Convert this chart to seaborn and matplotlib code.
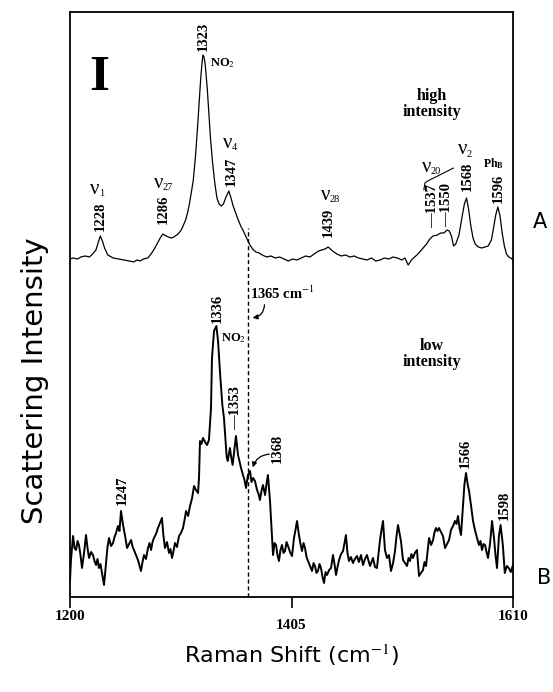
import numpy as np
import pandas as pd
import matplotlib
matplotlib.use("Agg")
import matplotlib.pyplot as plt
import seaborn as sns

# ---------------- data ----------------
# Spectrum A (high intensity): Raman shift (cm-1) and intensity (a.u.)
shift_a = [1200, 1203, 1207, 1210, 1214, 1218, 1221, 1224, 1226, 1228, 1230, 1232,
           1235, 1240, 1245, 1250, 1255, 1259, 1262, 1265, 1268, 1272, 1275, 1278,
           1281, 1284, 1286, 1289, 1291, 1294, 1296, 1300, 1303, 1305, 1307, 1309,
           1311, 1314, 1316, 1318, 1319.5, 1321, 1322, 1323, 1324, 1325, 1327, 1330,
           1332, 1334, 1336, 1338, 1340, 1342, 1344, 1347, 1349, 1351, 1355, 1358,
           1360, 1363, 1366, 1369, 1372, 1375, 1378, 1382, 1386, 1390, 1394, 1398,
           1402, 1406, 1410, 1414, 1418, 1422, 1426, 1430, 1433, 1436, 1439, 1441,
           1443, 1447, 1451, 1455, 1459, 1463, 1467, 1471, 1475, 1479, 1483, 1487,
           1491, 1495, 1499, 1503, 1507, 1510, 1513, 1516, 1519, 1522, 1526, 1530,
           1533, 1536, 1540, 1543, 1546, 1549, 1551, 1553, 1555, 1557, 1560, 1563,
           1565, 1567, 1569, 1571, 1573, 1575, 1578, 1581, 1584, 1587, 1590, 1592,
           1594, 1596, 1598, 1600, 1602, 1604, 1606, 1608, 1610]
int_a = [9, 10, 9, 11, 12, 11, 14, 18, 25, 32, 27, 20,
         13, 10, 9, 8, 7, 6, 8, 7, 9, 10, 14, 19,
         25, 31, 34, 32, 31, 30, 31, 34, 38, 43, 48, 56,
         67, 87, 110, 140, 165, 190, 203, 213, 211, 205, 180, 130,
         105, 85, 70, 64, 62, 64, 70, 77, 70, 62, 50, 42,
         38, 31, 24, 19, 16, 15, 13, 11, 12, 10, 11, 9,
         7, 9, 8, 10, 12, 11, 14, 17, 18, 19, 21, 19,
         17, 14, 12, 13, 11, 12, 10, 9, 8, 10, 7, 8,
         10, 9, 11, 10, 8, 10, 3, 8, 11, 14, 19, 24,
         29, 32, 33, 35, 35, 38, 37, 32, 22, 24, 33, 52,
         64, 70, 58, 42, 30, 24, 21, 20, 21, 22, 28, 40,
         53, 61, 52, 35, 22, 14, 11, 10, 8]

# Spectrum B (low intensity): Raman shift (cm-1) and intensity (a.u.)
shift_b = [1200.0, 1200.9, 1202.8, 1204.2, 1205.6, 1207.0, 1208.3, 1209.7, 1211.1,
           1213.0, 1214.8, 1216.2, 1217.6, 1219.5, 1221.3, 1222.7, 1224.1, 1225.5,
           1226.8, 1228.2, 1229.6, 1231.5, 1233.3, 1234.7, 1236.1, 1238.0, 1239.8,
           1241.2, 1242.6, 1244.4, 1245.8, 1247.2, 1249.1, 1251.0, 1252.8, 1254.6,
           1256.5, 1258.0, 1259.2, 1261.0, 1262.9, 1265.7, 1267.1, 1268.5, 1270.3,
           1272.2, 1273.6, 1275.0, 1276.4, 1277.7, 1279.6, 1281.4, 1283.3, 1285.1,
           1286.5, 1287.9, 1289.8, 1291.6, 1293.0, 1294.4, 1295.8, 1297.2, 1299.0,
           1300.9, 1302.7, 1304.6, 1306.0, 1307.4, 1309.3, 1311.1, 1313.0, 1314.8,
           1316.6, 1318.5, 1319.4, 1320.3, 1321.7, 1323.1, 1325.0, 1326.8, 1328.6,
           1330.5, 1331.4, 1333.3, 1335.5, 1337.0, 1339.0, 1341.0, 1342.5, 1344.0,
           1345.0, 1346.0, 1348.0, 1349.2, 1350.5, 1352.0, 1353.6, 1355.5, 1357.0,
           1358.3, 1360.1, 1361.5, 1362.9, 1364.7, 1366.6, 1368.0, 1369.4, 1371.2,
           1373.1, 1374.5, 1375.8, 1377.2, 1378.6, 1380.5, 1382.0, 1383.2, 1385.1,
           1386.9, 1387.9, 1389.3, 1390.7, 1392.0, 1393.4, 1394.8, 1396.2, 1397.6,
           1399.0, 1400.4, 1401.8, 1403.6, 1405.5, 1407.3, 1408.7, 1410.1, 1411.9,
           1413.3, 1414.7, 1416.1, 1417.5, 1418.9, 1420.3, 1422.2, 1424.0, 1425.4,
           1426.7, 1428.1, 1429.5, 1430.9, 1432.3, 1433.7, 1435.1, 1436.5, 1437.9,
           1439.8, 1441.6, 1443.4, 1444.8, 1446.2, 1447.6, 1449.0, 1450.9, 1452.7,
           1454.1, 1455.4, 1456.8, 1458.2, 1460.0, 1461.9, 1463.7, 1465.6, 1467.4,
           1469.3, 1471.2, 1473.0, 1474.9, 1476.3, 1477.7, 1479.0, 1480.4, 1482.3,
           1484.1, 1485.5, 1486.9, 1488.3, 1489.7, 1491.5, 1493.4, 1495.2, 1497.1,
           1499.0, 1500.8, 1502.2, 1503.6, 1505.0, 1506.3, 1508.2, 1510.0, 1511.9,
           1513.3, 1514.7, 1516.0, 1517.4, 1519.2, 1521.1, 1523.0, 1524.8, 1526.7,
           1528.1, 1529.5, 1530.9, 1532.3, 1534.2, 1536.0, 1537.4, 1538.7, 1540.1,
           1541.5, 1543.4, 1545.2, 1547.1, 1549.0, 1550.8, 1552.6, 1554.5, 1556.3,
           1557.7, 1559.1, 1560.5, 1561.9, 1563.7, 1565.0, 1566.5, 1568.0, 1569.3,
           1571.1, 1573.0, 1574.8, 1576.7, 1578.5, 1579.9, 1581.3, 1582.7, 1584.1,
           1585.5, 1586.9, 1588.8, 1590.6, 1592.4, 1593.8, 1595.2, 1597.0, 1598.5,
           1600.6, 1602.4, 1604.3, 1606.1, 1608.0, 1610.0]
int_b = [7, 28, 52, 40, 38, 47, 43, 33, 20,
         35, 53, 40, 30, 36, 33, 27, 23, 29,
         20, 24, 15, 3, 25, 41, 50, 42, 45,
         51, 55, 62, 57, 77, 63, 52, 40, 44,
         48, 41, 38, 33, 28, 17, 26, 33, 29,
         40, 45, 38, 46, 50, 54, 60, 65, 70,
         52, 40, 46, 35, 39, 30, 37, 45, 41,
         52, 55, 60, 68, 77, 72, 82, 90, 102,
         98, 95, 110, 147, 144, 150, 146, 143, 148,
         180, 230, 257, 262, 247, 213, 183, 170, 147,
         131, 127, 140, 131, 123, 137, 152, 133, 126,
         120, 113, 108, 100, 113, 117, 106, 110, 107,
         98, 94, 88, 97, 103, 93, 105, 113, 87,
         53, 33, 45, 43, 33, 27, 38, 43, 35,
         37, 46, 42, 36, 32, 50, 58, 67, 53,
         44, 37, 45, 40, 31, 27, 22, 17, 25,
         22, 15, 17, 24, 20, 11, 5, 16, 13,
         18, 20, 33, 24, 13, 21, 28, 34, 37,
         45, 53, 35, 27, 31, 25, 29, 32, 26,
         33, 23, 29, 33, 27, 22, 26, 30, 21,
         20, 34, 48, 58, 67, 38, 30, 33, 17,
         25, 37, 52, 63, 55, 47, 28, 25, 22,
         30, 27, 34, 30, 35, 38, 12, 15, 18,
         26, 22, 36, 50, 43, 48, 56, 60, 57,
         60, 56, 52, 40, 44, 48, 58, 62, 67,
         64, 72, 60, 53, 83, 103, 115, 104, 97,
         83, 67, 58, 50, 43, 47, 38, 44, 43,
         36, 30, 45, 67, 50, 33, 20, 52, 63,
         43, 15, 22, 20, 16, 23]

tick_values = [1200, 1405, 1610]
marker_line = 1365

# vibrational mode labels: subscript, x position, y position
mode_labels = [("1", 1223, 415), ("27", 1282, 421), ("4", 1346, 461),
               ("28", 1437, 409), ("20", 1530, 437), ("2", 1563, 454)]

# vertical placement of the two traces inside the shared frame
OFFSET_A = 336
OFFSET_B = 16

df_a = pd.DataFrame({"shift": shift_a, "intensity": np.array(int_a) + OFFSET_A})
df_b = pd.DataFrame({"shift": shift_b, "intensity": np.array(int_b) + OFFSET_B})

# ---------------- style ----------------
sns.set_theme(style="white")
plt.rcParams["font.family"] = ["Liberation Serif", "DejaVu Serif"]
plt.rcParams["mathtext.fontset"] = "stix"
plt.rcParams["text.color"] = "black"
plt.rcParams["axes.labelcolor"] = "black"
plt.rcParams["xtick.color"] = "black"
plt.rcParams["xtick.labelcolor"] = "black"

fig = plt.figure(figsize=(5.53, 6.92), dpi=100)
ax = fig.add_axes([70 / 553, 95 / 692, 443 / 553, 585 / 692])

sns.lineplot(data=df_a, x="shift", y="intensity", ax=ax, color="black",
             lw=0.9, estimator=None, sort=False)
sns.lineplot(data=df_b, x="shift", y="intensity", ax=ax, color="black",
             lw=1.4, estimator=None, sort=False)

y_lo, y_hi = 7, 592
ax.set_xlim(1200, 1610)
ax.set_ylim(y_lo, y_hi)
ax.set_yticks([])
ax.set_xticks(tick_values)
ax.set_xticklabels([str(v) for v in tick_values], fontsize=11, fontweight="bold",
                   color="black")
ax.tick_params(axis="x", direction="out", length=8, width=1.2, color="black",
               labelcolor="black", pad=1, bottom=True)
ax.xaxis.get_major_ticks()[1].set_pad(8)
for s in ax.spines.values():
    s.set_color("black")
    s.set_linewidth(1.3)

ax.set_xlabel("Raman Shift (cm$^{-1}$)", family="DejaVu Sans", fontsize=16,
              color="black")
ax.set_ylabel("Scattering Intensity", family="DejaVu Sans", fontsize=21,
              color="black")
ax.xaxis.set_label_coords(0.5, -0.077)
ax.yaxis.set_label_coords(-0.048, 0.37)

# dashed marker at 1365 cm-1
ax.vlines(marker_line, y_lo, 376, colors="black", linestyles=(0, (3, 2)), lw=1)

# ---------------- annotations ----------------
num_kw = dict(rotation=90, ha="center", va="center", fontsize=10.5,
              fontweight="bold", color="black")
txt_kw = dict(ha="center", va="center", fontweight="bold", color="black")

# nu symbols with small lowered subscripts
for sub, xm, ym in mode_labels:
    ax.text(xm, ym, "ν", ha="center", va="center", fontsize=15, color="black")
    ax.annotate(sub, xy=(xm, ym), xytext=(2.8, -3.5), textcoords="offset points",
                ha="left", va="center", fontsize=7.5, color="black")

# trace A labels
ax.text(1228, 388, "1228", **num_kw)
ax.text(1286, 395, "1286", **num_kw)
ax.text(1323, 568, "1323", **num_kw)
ax.text(1341, 541, "NO$_{2}$", fontsize=9, **txt_kw)
ax.text(1349, 433, "1347", **num_kw)
ax.text(1439, 382, "1439", **num_kw)
ax.text(1536, 398, "—1537", **num_kw)
ax.text(1549, 399, "—1550", **num_kw)
ax.plot([1527.5, 1528.5, 1531, 1555], [414, 421, 423, 436], color="black", lw=0.8)
ax.text(1568, 428, "1568", **num_kw)
ax.text(1596, 416, "1596", **num_kw)
ax.text(1592, 440, r"Ph$_{\mathbf{B}}$", fontsize=8.5, **txt_kw)

ax.text(1227, 526, "I", fontsize=37, **txt_kw)
ax.text(1535, 500, "high\nintensity", fontsize=11.5, linespacing=1.0, **txt_kw)

# trace B labels
ax.text(1367, 311, "1365 cm$^{-1}$", ha="left", va="center", fontsize=10.5,
        fontweight="bold", color="black")
ax.annotate("", xy=(1366.5, 286), xytext=(1380, 302),
            arrowprops=dict(arrowstyle="-|>", color="black", lw=0.9,
                            mutation_scale=7,
                            connectionstyle="arc3,rad=-0.5"))
ax.text(1336, 296, "1336", **num_kw)
ax.text(1351, 266, "NO$_{2}$", fontsize=9, **txt_kw)
ax.text(1353, 196, "—1353", **num_kw)
ax.text(1392, 156, "1368", **num_kw)
ax.annotate("", xy=(1368.5, 134), xytext=(1387, 150),
            arrowprops=dict(arrowstyle="-|>", color="black", lw=0.9,
                            mutation_scale=7,
                            connectionstyle="arc3,rad=0.4"))
ax.text(1248, 114, "1247", **num_kw)
ax.text(1566, 151, "1566", **num_kw)
ax.text(1602, 99, "1598", **num_kw)
ax.text(1535, 250, "low\nintensity", fontsize=11.5, linespacing=1.0, **txt_kw)

# trace identifiers outside the frame
fig.text(540 / 553, 1 - 222 / 692, "A", family="DejaVu Sans", fontsize=15,
         ha="center", va="center", color="black")
fig.text(544 / 553, 1 - 578 / 692, "B", family="DejaVu Sans", fontsize=15,
         ha="center", va="center", color="black")

fig.savefig("out.png", dpi=100, facecolor="white")
